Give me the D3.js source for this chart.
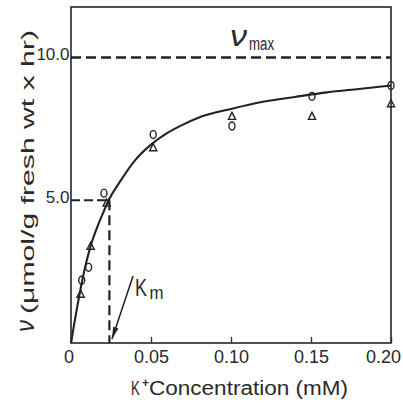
<!DOCTYPE html>
<html>
<head>
<meta charset="utf-8">
<script src="https://cdn.jsdelivr.net/npm/d3@7/dist/d3.min.js"></script>
<style>
  html, body { margin: 0; padding: 0; background: #fff; }
  svg { display: block; }
  text { fill: #2a2a2a; font-family: "Liberation Sans", Arial, sans-serif; }
</style>
</head>
<body>
<svg id="chart" width="403" height="412"></svg>
<script>
// K+ uptake rate versus external K+ concentration (Michaelis–Menten saturation)
const concTicks = [0, 0.05, 0.10, 0.15, 0.20];
const concTickLabels = ["0", "0.05", "0.10", "0.15", "0.20"];
const rateTicks = [5, 10];
const rateTickLabels = ["5.0", "10.0"];

// measured points, open circles
const circleConc = [0.0067, 0.011, 0.0206, 0.0514, 0.1006, 0.1506, 0.200];
const circleRate = [2.20, 2.65, 5.25, 7.30, 7.60, 8.64, 9.02];

// measured points, open triangles
const triangleConc = [0.006, 0.0123, 0.0223, 0.0514, 0.1006, 0.1506, 0.200];
const triangleRate = [1.71, 3.39, 4.90, 6.84, 7.94, 7.94, 8.38];

// fitted saturation curve
const curveConc = [0, 0.004, 0.008, 0.012, 0.016, 0.020, 0.024, 0.030, 0.040, 0.050, 0.060, 0.070, 0.080, 0.100, 0.120, 0.140, 0.160, 0.180, 0.200];
const curveRate = [0, 1.30, 2.45, 3.35, 4.00, 4.55, 5.05, 5.60, 6.40, 6.95, 7.35, 7.65, 7.90, 8.20, 8.45, 8.62, 8.78, 8.90, 9.02];

const vmax = 10;
const km = 0.024;
const halfRate = 5;

const svg = d3.select("#chart");
const x = d3.scaleLinear().domain([0, 0.2]).range([71, 391]);
const y = d3.scaleLinear().domain([0, 11.77]).range([343, 7]);
const ink = "#222";

// plot frame
svg.append("rect")
  .attr("x", x(0)).attr("y", y(11.77))
  .attr("width", x(0.2) - x(0)).attr("height", y(0) - y(11.77))
  .attr("fill", "none").attr("stroke", "#333").attr("stroke-width", 1.7);

// bottom axis: inward ticks, labels below
const xAxis = d3.axisBottom(x)
  .tickValues(concTicks)
  .tickFormat((d, i) => concTickLabels[i])
  .tickSizeInner(-6).tickSizeOuter(0).tickPadding(7);
const gx = svg.append("g").attr("transform", `translate(0,${y(0)})`).call(xAxis);
gx.select(".domain").remove();
gx.selectAll(".tick line").attr("stroke", "#333").attr("stroke-width", 1.4);
gx.selectAll(".tick text")
  .attr("font-size", 18).attr("font-family", "Liberation Sans, Arial, sans-serif")
  .attr("fill", "#2a2a2a")
  .attr("dx", (d, i) => i === 0 ? -2.5 : (i === concTicks.length - 1 ? -8 : 0));

// left axis labels only
const yAxis = d3.axisLeft(y)
  .tickValues(rateTicks)
  .tickFormat((d, i) => rateTickLabels[i])
  .tickSize(0).tickPadding(1.5);
const gy = svg.append("g").attr("transform", `translate(${x(0)},0)`).call(yAxis);
gy.select(".domain").remove();
gy.selectAll(".tick text")
  .attr("font-size", 17).attr("font-family", "Liberation Sans, Arial, sans-serif")
  .attr("fill", "#2a2a2a").attr("y", -3);

// Vmax asymptote
svg.append("line")
  .attr("x1", x(0)).attr("x2", x(0.2)).attr("y1", y(vmax)).attr("y2", y(vmax))
  .attr("stroke", ink).attr("stroke-width", 2.4).attr("stroke-dasharray", "10,5");

// half-saturation guides
svg.append("line")
  .attr("x1", x(0)).attr("x2", x(km)).attr("y1", y(halfRate)).attr("y2", y(halfRate))
  .attr("stroke", ink).attr("stroke-width", 2.2).attr("stroke-dasharray", "9,4");
svg.append("line")
  .attr("x1", x(km)).attr("x2", x(km)).attr("y1", y(halfRate)).attr("y2", y(0))
  .attr("stroke", ink).attr("stroke-width", 2.2).attr("stroke-dasharray", "10,5");

// fitted curve
const curvePts = curveConc.map((c, i) => [c, curveRate[i]]);
svg.append("path")
  .datum(curvePts)
  .attr("d", d3.line().x(d => x(d[0])).y(d => y(d[1])).curve(d3.curveMonotoneX))
  .attr("fill", "none").attr("stroke", ink).attr("stroke-width", 2.1);

// circles
svg.append("g").selectAll("ellipse")
  .data(circleConc.map((c, i) => [c, circleRate[i]]))
  .join("ellipse")
  .attr("cx", d => x(d[0])).attr("cy", d => y(d[1]))
  .attr("rx", 3).attr("ry", 4)
  .attr("fill", "none").attr("stroke", ink).attr("stroke-width", 1.4);

// triangles
svg.append("g").selectAll("path")
  .data(triangleConc.map((c, i) => [c, triangleRate[i]]))
  .join("path")
  .attr("d", d => {
    const cx = x(d[0]), cy = y(d[1]);
    return `M${cx},${cy - 4}L${cx + 3.6},${cy + 3}L${cx - 3.6},${cy + 3}Z`;
  })
  .attr("fill", "none").attr("stroke", ink).attr("stroke-width", 1.4);

// Vmax label
svg.append("text").text("ν")
  .attr("x", 230).attr("y", y(vmax) - 11.5)
  .attr("font-family", "Liberation Serif, serif").attr("font-style", "italic")
  .attr("font-size", 30).attr("textLength", 17).attr("lengthAdjust", "spacingAndGlyphs");
svg.append("text").text("max")
  .attr("x", 249).attr("y", y(vmax) - 7.5)
  .attr("font-size", 18).attr("textLength", 25).attr("lengthAdjust", "spacingAndGlyphs");

// Km label and arrow
const arrowFrom = [x(0.0388), y(2.35)];
const arrowTip = [x(0.0256), y(0.14)];
svg.append("line")
  .attr("x1", arrowFrom[0]).attr("y1", arrowFrom[1])
  .attr("x2", arrowTip[0]).attr("y2", arrowTip[1])
  .attr("stroke", ink).attr("stroke-width", 1.5);
{
  const dx = arrowTip[0] - arrowFrom[0], dy = arrowTip[1] - arrowFrom[1];
  const len = Math.hypot(dx, dy), ux = dx / len, uy = dy / len;
  const bx = arrowTip[0] - ux * 12, by = arrowTip[1] - uy * 12;
  svg.append("path")
    .attr("d", `M${arrowTip[0]},${arrowTip[1]}L${bx - uy * 2.8},${by + ux * 2.8}L${bx + uy * 2.8},${by - ux * 2.8}Z`)
    .attr("fill", ink);
}
svg.append("text").text("K")
  .attr("x", 135).attr("y", 296)
  .attr("font-size", 23).attr("textLength", 12).attr("lengthAdjust", "spacingAndGlyphs");
svg.append("text").text("m")
  .attr("x", 149.5).attr("y", 299)
  .attr("font-size", 19).attr("textLength", 14).attr("lengthAdjust", "spacingAndGlyphs");

// y-axis title
svg.append("text").text("ν")
  .attr("transform", "translate(34,332) rotate(-90)")
  .attr("font-family", "Liberation Serif, serif").attr("font-style", "italic")
  .attr("font-size", 26).attr("textLength", 12).attr("lengthAdjust", "spacingAndGlyphs");
svg.append("text").text("(μmol/g fresh wt x hr)")
  .attr("transform", "translate(34,314) rotate(-90)")
  .attr("font-size", 18).attr("textLength", 284).attr("lengthAdjust", "spacingAndGlyphs");

// x-axis title: narrow K with superscript +, then the rest
svg.append("text").text("K")
  .attr("transform", "translate(131,395) scale(0.66,1)")
  .attr("font-size", 20);
svg.append("text").text("+")
  .attr("x", 142).attr("y", 387)
  .attr("font-size", 12).attr("font-weight", "bold");
svg.append("text").text("Concentration  (mM)")
  .attr("x", 149).attr("y", 395).attr("font-size", 20)
  .attr("textLength", 199).attr("lengthAdjust", "spacingAndGlyphs");
</script>
</body>
</html>
